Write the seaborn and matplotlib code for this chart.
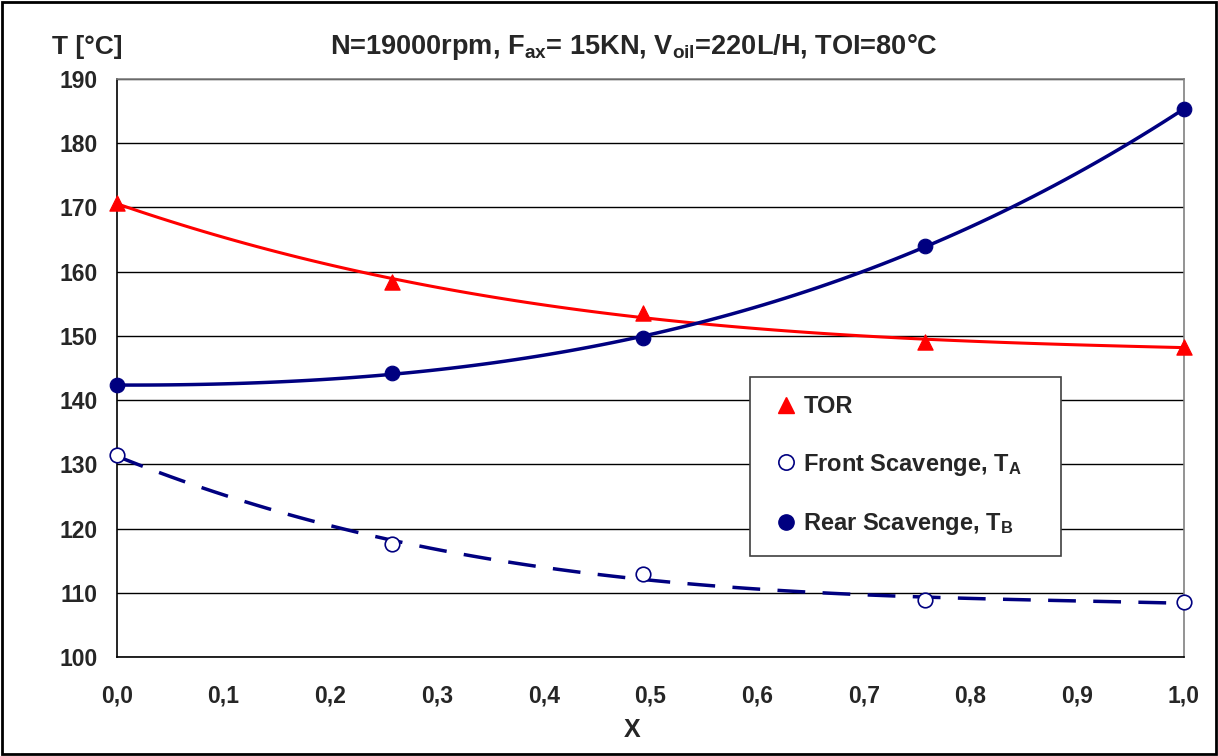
import matplotlib
matplotlib.use("Agg")
import matplotlib.pyplot as plt
import seaborn as sns
import pandas as pd
from matplotlib.patches import Rectangle
from matplotlib.lines import Line2D

sns.set_style("white")
plt.rcParams['font.family'] = ['Liberation Sans', 'DejaVu Sans']
plt.rcParams['font.weight'] = 'bold'
plt.rcParams['mathtext.fontset'] = 'custom'
plt.rcParams['mathtext.rm'] = 'Liberation Sans:bold'
plt.rcParams['mathtext.bf'] = 'Liberation Sans:bold'
plt.rcParams['mathtext.it'] = 'Liberation Sans:bold'

x = [0.0, 0.258, 0.493, 0.757, 1.0]
tor = [170.7, 158.4, 153.6, 149.0, 148.3]
front = [131.4, 117.6, 112.9, 108.8, 108.5]
rear = [142.3, 144.2, 149.7, 164.0, 185.3]

df = pd.DataFrame({"x": x, "TOR": tor, "Front": front, "Rear": rear})

navy = "#000080"
red = "#ff0000"

fig = plt.figure(figsize=(12.18, 7.56), dpi=100)
ax = fig.add_axes([0.096, 0.131, 0.876, 0.7645])

# trend lines (polynomial fits, like the spreadsheet trendlines)
sns.regplot(data=df, x="x", y="TOR", order=3, ci=None, scatter=False, ax=ax,
            line_kws=dict(color=red, lw=2.2))
sns.regplot(data=df, x="x", y="Front", order=3, ci=None, scatter=False, ax=ax,
            line_kws=dict(color=navy, lw=2.5, ls=(0, (8, 5))))
sns.regplot(data=df, x="x", y="Rear", order=3, ci=None, scatter=False, ax=ax,
            line_kws=dict(color=navy, lw=2.5))

# data points
sns.scatterplot(data=df, x="x", y="TOR", marker="^", s=120, color=red, edgecolor=red, ax=ax, zorder=5, clip_on=False)
sns.scatterplot(data=df, x="x", y="Front", marker="o", s=110, facecolor="white", edgecolor=navy, linewidth=1.2, ax=ax, zorder=5, clip_on=False)
sns.scatterplot(data=df, x="x", y="Rear", marker="o", s=110, color=navy, edgecolor=navy, ax=ax, zorder=5, clip_on=False)

ax.set_xlim(0, 1)
ax.set_ylim(100, 190)
ax.set_xticks([i / 10 for i in range(11)])
ax.set_xticklabels([f"{i/10:.1f}".replace(".", ",") for i in range(11)])
ax.set_yticks(range(100, 191, 10))
ax.tick_params(axis="both", labelsize=16.5, direction="out", length=6, width=1, color="black")
ax.tick_params(axis="y", pad=8)
ax.tick_params(axis="x", pad=14)
for lab in ax.get_xticklabels() + ax.get_yticklabels():
    lab.set_fontweight("bold")

ax.grid(axis="y", color="black", lw=1)
ax.grid(axis="x", visible=False)
ax.spines["left"].set_color("black")
ax.spines["bottom"].set_color("black")
ax.spines["top"].set_color("#808080")
ax.spines["right"].set_color("#808080")
for s in ax.spines.values():
    s.set_linewidth(1.2)

ax.set_xlabel("")
ax.set_ylabel("")
fig.text(0.519, 0.034, "X", ha="center", va="center", fontsize=18, fontweight="bold")
fig.text(0.043, 0.938, "T [°C]", ha="left", va="center", fontsize=19, fontweight="bold")
fig.text(0.52, 0.938, r"N=19000rpm, F$_{\mathrm{ax}}$= 15KN, V$_{\mathrm{oil}}$=220L/H, TOI=80°C",
         ha="center", va="center", fontsize=19.5, fontweight="bold")

handles = [
    Line2D([], [], ls="none", marker="^", ms=11, color=red),
    Line2D([], [], ls="none", marker="o", ms=11, mfc="white", mec=navy, mew=1.2),
    Line2D([], [], ls="none", marker="o", ms=11, color=navy),
]
labels = ["TOR", r"Front Scavenge, T$_{\mathrm{A}}$    ", r"Rear Scavenge, T$_{\mathrm{B}}$"]
leg = ax.legend(handles, labels, loc="upper left", bbox_to_anchor=(0.593, 0.485),
                frameon=True, fancybox=False, edgecolor="#404040", framealpha=1,
                prop=dict(size=17, weight="bold"), labelspacing=1.42, handletextpad=0.0,
                handlelength=1.5, borderpad=0.78, borderaxespad=0)
leg.get_frame().set_linewidth(1.2)

fig.patches.append(Rectangle((0.002, 0.003), 0.996, 0.994, transform=fig.transFigure,
                             fill=False, edgecolor="black", lw=2))

fig.savefig("out.png", dpi=100)
